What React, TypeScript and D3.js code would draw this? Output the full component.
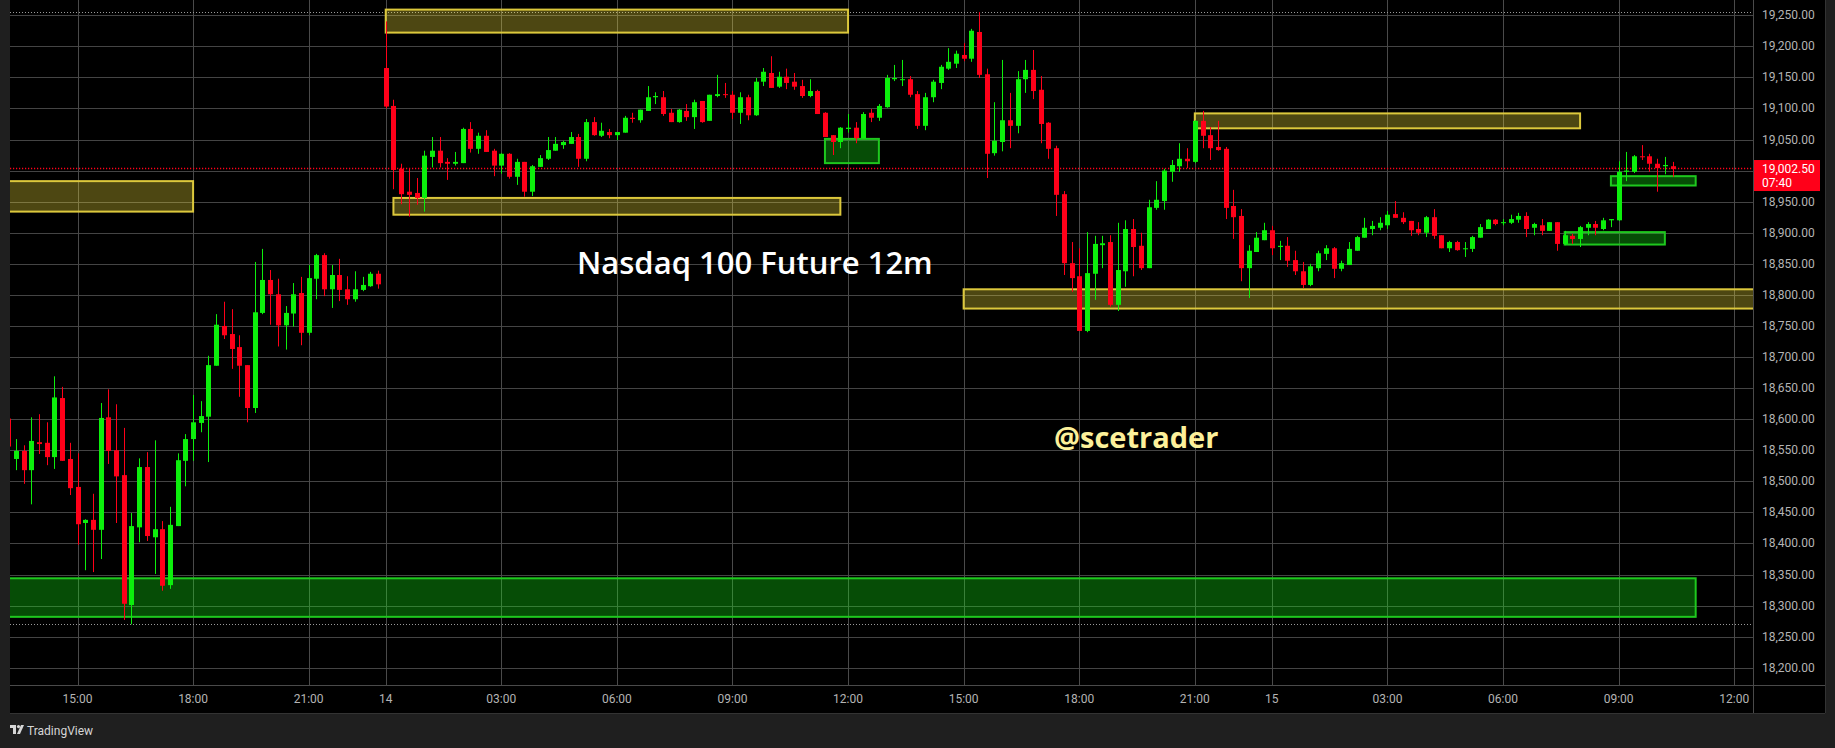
import React, { useEffect, useRef } from "react";
import * as d3 from "d3";

// 12 minute candles, index 0 = 15:00 on the 13th
const firstIndex = -9;

const opens = [
  18601, 18536, 18549, 18518, 18563, 18562, 18539, 18634, 18536,
  18491, 18433, 18438, 18422, 18603, 18550, 18510, 18301, 18426, 18523,
  18410, 18423, 18333, 18428, 18533, 18568, 18594, 18604, 18686, 18750,
  18737, 18716, 18687, 18618, 18771, 18824, 18801, 18751, 18770, 18803,
  18739, 18826, 18864, 18809, 18832, 18809, 18793, 18808, 18814, 18834,
  19165, 19104, 19003, 18966, 18964, 18956, 19022, 19032, 19014, 19011,
  19012, 19067, 19035, 19056, 19032, 19008, 19027, 18990, 19014, 18966,
  19006, 19019, 19032, 19041, 19043, 19054, 19019, 19078, 19056, 19062,
  19057, 19061, 19085, 19081, 19096, 19118, 19118, 19093, 19078, 19096,
  19086, 19112, 19080, 19120, 19123, 19122, 19093, 19118, 19089, 19143,
  19157, 19135, 19151, 19143, 19136, 19120, 19128, 19093, 19057, 19046,
  19067, 19069, 19052, 19093, 19085, 19102, 19147, 19146, 19147, 19123,
  19072, 19118, 19141, 19164, 19172, 19186, 19180, 19223, 19155, 19028,
  19046, 19081, 19072, 19147, 19162, 19130, 19077, 19036, 18962, 18851,
  18830, 18742, 18834, 18880, 18885, 18784, 18838, 18906, 18879, 18843,
  18940, 18951, 18998, 19007, 19019, 19014, 19080, 19057, 19038, 19035,
  18943, 18927, 18843, 18869, 18888, 18904, 18877, 18879, 18856, 18838,
  18816, 18843, 18866, 18875, 18842, 18848, 18871, 18892, 18906, 18908,
  18912, 18930, 18924, 18919, 18906, 18900, 18925, 18896, 18875, 18885,
  18874, 18874, 18892, 18906, 18921, 18916, 18916, 18921, 18927, 18908,
  18912, 18903, 18917, 18882, 18895, 18890, 18908, 18914, 18906, 18920,
  18920, 18998, 18998, 19023, 19023, 19011, 19007, 19007,
];
const highs = [
  18628, 18568, 18558, 18603, 18608, 18595, 18669, 18652, 18562,
  18545, 18439, 18480, 18626, 18648, 18624, 18586, 18449, 18537, 18547,
  18566, 18436, 18459, 18545, 18576, 18639, 18629, 18702, 18769, 18789,
  18777, 18735, 18687, 18853, 18874, 18840, 18826, 18782, 18819, 18829,
  18848, 18866, 18867, 18848, 18858, 18830, 18838, 18829, 18837, 18839,
  19240, 19114, 19011, 19004, 18988, 19032, 19054, 19054, 19020, 19030,
  19069, 19078, 19061, 19065, 19035, 19028, 19028, 19019, 19014, 19009,
  19025, 19054, 19054, 19048, 19062, 19059, 19083, 19086, 19077, 19067,
  19062, 19088, 19093, 19098, 19136, 19126, 19128, 19099, 19099, 19107,
  19114, 19112, 19122, 19154, 19141, 19128, 19126, 19122, 19149, 19165,
  19184, 19159, 19164, 19157, 19146, 19147, 19130, 19094, 19057, 19070,
  19091, 19078, 19094, 19099, 19107, 19154, 19170, 19178, 19152, 19128,
  19125, 19146, 19170, 19197, 19193, 19205, 19228, 19255, 19164, 19110,
  19178, 19125, 19160, 19178, 19194, 19152, 19078, 19040, 18967, 18885,
  18875, 18901, 18895, 18895, 18896, 18916, 18920, 18922, 18900, 18953,
  18983, 19003, 19017, 19044, 19036, 19081, 19096, 19070, 19080, 19038,
  18969, 18938, 18880, 18901, 18916, 18911, 18887, 18893, 18871, 18853,
  18850, 18871, 18880, 18877, 18855, 18885, 18895, 18924, 18919, 18925,
  18935, 18951, 18933, 18919, 18917, 18927, 18938, 18896, 18887, 18887,
  18885, 18895, 18914, 18922, 18922, 18922, 18929, 18932, 18933, 18916,
  18922, 18917, 18917, 18903, 18898, 18911, 18917, 18919, 18924, 18922,
  19015, 19030, 19025, 19041, 19027, 19019, 19022, 19014,
];
const lows = [
  18537, 18518, 18496, 18463, 18544, 18526, 18520, 18533, 18478,
  18398, 18357, 18354, 18375, 18528, 18433, 18277, 18270, 18402, 18404,
  18351, 18324, 18327, 18428, 18492, 18533, 18579, 18531, 18686, 18729,
  18681, 18636, 18595, 18610, 18769, 18752, 18717, 18712, 18749, 18719,
  18735, 18793, 18798, 18779, 18790, 18784, 18789, 18806, 18813, 18810,
  19100, 18970, 18946, 18926, 18945, 18934, 19005, 19005, 18985, 19008,
  19012, 19029, 19027, 19030, 18991, 18995, 18987, 18977, 18958, 18959,
  19006, 19017, 19032, 19035, 19043, 19006, 19015, 19056, 19054, 19052,
  19049, 19061, 19077, 19077, 19096, 19107, 19088, 19078, 19077, 19080,
  19067, 19077, 19080, 19118, 19117, 19083, 19075, 19081, 19088, 19136,
  19133, 19133, 19131, 19130, 19117, 19118, 19091, 19054, 19025, 19036,
  19061, 19044, 19052, 19078, 19080, 19101, 19144, 19136, 19118, 19067,
  19065, 19110, 19131, 19162, 19165, 19176, 19175, 19149, 18988, 19024,
  19031, 19036, 19060, 19125, 19115, 19044, 19019, 18927, 18832, 18805,
  18742, 18740, 18792, 18843, 18781, 18774, 18813, 18830, 18840, 18843,
  18937, 18937, 18982, 18998, 19004, 19012, 19036, 19017, 19032, 18922,
  18890, 18822, 18795, 18869, 18888, 18864, 18856, 18845, 18832, 18811,
  18814, 18838, 18856, 18827, 18838, 18848, 18871, 18892, 18896, 18904,
  18906, 18924, 18914, 18895, 18896, 18893, 18890, 18875, 18869, 18871,
  18861, 18869, 18892, 18906, 18912, 18912, 18914, 18916, 18893, 18896,
  18896, 18903, 18871, 18880, 18882, 18877, 18896, 18896, 18904, 18909,
  18919, 18983, 18996, 19017, 18998, 18966, 18994, 18990,
];
const closes = [
  18556, 18549, 18518, 18565, 18560, 18539, 18635, 18533, 18489,
  18431, 18438, 18422, 18602, 18549, 18508, 18303, 18428, 18523, 18412,
  18423, 18332, 18430, 18534, 18568, 18595, 18605, 18687, 18752, 18735,
  18713, 18686, 18618, 18772, 18824, 18801, 18751, 18771, 18801, 18739,
  18827, 18864, 18809, 18832, 18808, 18793, 18809, 18816, 18834, 18817,
  19103, 19001, 18962, 18961, 18956, 19024, 19032, 19012, 19011, 19014,
  19067, 19035, 19056, 19030, 19008, 19027, 18990, 19014, 18966, 19007,
  19020, 19033, 19043, 19046, 19054, 19019, 19078, 19057, 19064, 19057,
  19062, 19085, 19083, 19098, 19118, 19120, 19091, 19078, 19098, 19086,
  19110, 19078, 19122, 19123, 19122, 19093, 19118, 19089, 19143, 19159,
  19133, 19151, 19141, 19135, 19120, 19128, 19091, 19054, 19046, 19069,
  19069, 19052, 19091, 19085, 19104, 19149, 19149, 19147, 19122, 19072,
  19118, 19143, 19167, 19175, 19188, 19180, 19225, 19154, 19027, 19048,
  19081, 19072, 19147, 19162, 19128, 19075, 19035, 18961, 18851, 18827,
  18742, 18835, 18882, 18883, 18784, 18840, 18906, 18877, 18843, 18941,
  18953, 19000, 19009, 19019, 19015, 19080, 19056, 19036, 19033, 18940,
  18925, 18843, 18871, 18892, 18904, 18875, 18879, 18855, 18838, 18816,
  18846, 18867, 18875, 18842, 18851, 18874, 18893, 18908, 18911, 18916,
  18929, 18924, 18917, 18904, 18900, 18925, 18895, 18875, 18885, 18872,
  18875, 18893, 18909, 18921, 18914, 18917, 18922, 18927, 18906, 18914,
  18903, 18917, 18882, 18896, 18890, 18909, 18914, 18908, 18920, 18922,
  18998, 19000, 19023, 19022, 19011, 19004, 19009, 19002.5,
];

const lastPrice = 19002.5;
const countdown = "07:40";
const rangeHigh = 19255;
const rangeLow = 18270;

const tickIndex = [0, 15, 30, 40, 55, 70, 85, 100, 115, 130, 145, 155, 170, 185, 200, 215];
const tickLabels = ["15:00", "18:00", "21:00", "14", "03:00", "06:00", "09:00", "12:00",
  "15:00", "18:00", "21:00", "15", "03:00", "06:00", "09:00", "12:00"];
const priceTicks = d3.range(18200, 19251, 50);

// drawn zones (time index from/to, price top/bottom)
const zoneFrom = [-14, 40, 41, 97, 115, 145, 193, 199, -14];
const zoneTo = [15, 100, 99, 104, 240, 195, 206, 210, 210];
const zoneTop = [18983, 19259, 18956, 19051, 18809, 19092, 18901, 18991, 18344];
const zoneBottom = [18934, 19222, 18929, 19012, 18778, 19068, 18881, 18976, 18282];
const zoneKind = ["y", "y", "y", "g", "y", "y", "g", "g", "g"];

const W = 1835, H = 748;
const plotL = 10, plotR = 1753, plotB = 685, axisB = 713, axisR = 1825;
const UP = "#0cef0c", DOWN = "#ff0019";
const FONT = "Roboto, 'Liberation Sans', sans-serif";

const App = () => {
  const ref = useRef(null);

  useEffect(() => {
    const svg = d3.select(ref.current);
    svg.selectAll("*").remove();

    const x = d3.scaleLinear().domain([0, 215]).range([77.5, 1734.2]);
    const y = d3.scaleLinear().domain([18200, 19250]).range([667.8, 15.2]);
    const px = (v) => Math.round(v) + 0.5;

    svg.append("rect").attr("width", W).attr("height", H).attr("fill", "#1f1f1f");
    svg.append("rect").attr("x", plotL).attr("y", 0)
      .attr("width", axisR - plotL).attr("height", axisB).attr("fill", "#000");

    svg.append("defs").append("clipPath").attr("id", "plot")
      .append("rect").attr("x", plotL).attr("y", 0)
      .attr("width", plotR - plotL).attr("height", plotB);

    const plot = svg.append("g").attr("clip-path", "url(#plot)");

    // grid
    plot.selectAll(".hg").data(priceTicks).enter().append("line")
      .attr("x1", plotL).attr("x2", plotR)
      .attr("y1", d => px(y(d))).attr("y2", d => px(y(d)))
      .attr("stroke", "#444").attr("stroke-width", 1);
    plot.selectAll(".vg").data(tickIndex).enter().append("line")
      .attr("x1", d => px(x(d))).attr("x2", d => px(x(d)))
      .attr("y1", 0).attr("y2", plotB)
      .attr("stroke", "#4a4a4a").attr("stroke-width", 1);

    // high / low of visible range
    plot.selectAll(".hl").data([rangeHigh, rangeLow]).enter().append("line")
      .attr("x1", plotL).attr("x2", plotR)
      .attr("y1", d => px(y(d))).attr("y2", d => px(y(d)))
      .attr("stroke", "#9a9a9a").attr("stroke-dasharray", "1,2");

    // zones
    const zones = zoneFrom.map((f, i) => ({ f, t: zoneTo[i], top: zoneTop[i], bot: zoneBottom[i], k: zoneKind[i] }));
    plot.selectAll(".zone").data(zones).enter().append("rect")
      .attr("x", d => x(d.f)).attr("y", d => y(d.top))
      .attr("width", d => x(d.t) - x(d.f)).attr("height", d => y(d.bot) - y(d.top))
      .attr("fill", d => d.k === "y" ? "rgba(255,235,59,0.3)" : "rgba(20,255,20,0.3)")
      .attr("stroke", d => d.k === "y" ? "#dcc83c" : "#1ec81e")
      .attr("stroke-width", 2);

    // last price line
    plot.append("line")
      .attr("x1", plotL).attr("x2", plotR)
      .attr("y1", y(lastPrice) - 0.5).attr("y2", y(lastPrice) - 0.5)
      .attr("stroke", DOWN).attr("stroke-width", 1.5).attr("stroke-dasharray", "1.2,1.8");

    // candles
    const candles = opens.map((o, i) => ({
      i: i + firstIndex, o, h: highs[i], l: lows[i], c: closes[i],
    }));
    const cg = plot.selectAll(".candle").data(candles).enter().append("g");
    cg.append("line")
      .attr("x1", d => px(x(d.i))).attr("x2", d => px(x(d.i)))
      .attr("y1", d => y(d.h)).attr("y2", d => y(d.l))
      .attr("stroke", d => d.c >= d.o ? UP : DOWN).attr("stroke-width", 1);
    cg.append("rect")
      .attr("x", d => Math.round(x(d.i)) - 2).attr("width", 5)
      .attr("y", d => y(Math.max(d.o, d.c)))
      .attr("height", d => Math.max(1, Math.abs(y(d.o) - y(d.c))))
      .attr("fill", d => d.c >= d.o ? UP : DOWN);

    // texts on the chart
    svg.append("text").attr("x", 577).attr("y", 274)
      .style("font-family", "'Open Sans', sans-serif").style("font-weight", 600)
      .style("font-size", "31px").attr("fill", "#fff").text("Nasdaq 100 Future 12m");
    svg.append("text").attr("x", 1054).attr("y", 448)
      .style("font-family", "'Open Sans', sans-serif").style("font-weight", 700)
      .style("font-size", "29px").attr("fill", "#fdf09a").text("@scetrader");

    // axes frame
    svg.append("line").attr("x1", plotR + 0.5).attr("x2", plotR + 0.5).attr("y1", 0).attr("y2", axisB)
      .attr("stroke", "#4a4a4a");
    svg.append("line").attr("x1", plotL).attr("x2", axisR).attr("y1", plotB + 0.5).attr("y2", plotB + 0.5)
      .attr("stroke", "#4a4a4a");
    svg.append("line").attr("x1", axisR + 0.5).attr("x2", axisR + 0.5).attr("y1", 0).attr("y2", axisB)
      .attr("stroke", "#333");
    svg.append("line").attr("x1", plotL).attr("x2", axisR).attr("y1", axisB + 0.5).attr("y2", axisB + 0.5)
      .attr("stroke", "#333");

    // price axis
    svg.selectAll(".pl").data(priceTicks).enter().append("text")
      .attr("x", 1762).attr("y", d => y(d) + 4)
      .style("font-family", FONT).style("font-size", "12px").attr("fill", "#b4b4b4")
      .text(d => d3.format(",.2f")(d));

    // time axis
    svg.selectAll(".tl").data(tickIndex).enter().append("text")
      .attr("x", d => x(d)).attr("y", 703).attr("text-anchor", "middle")
      .style("font-family", FONT).style("font-size", "12px").attr("fill", "#b4b4b4")
      .text((d, i) => tickLabels[i]);

    // last price label
    const ly = y(lastPrice);
    svg.append("rect").attr("x", plotR + 1).attr("y", ly - 9).attr("width", 66).attr("height", 31)
      .attr("fill", DOWN);
    svg.append("text").attr("x", 1762).attr("y", ly + 4)
      .style("font-family", FONT).style("font-size", "12px").attr("fill", "#fff")
      .text(d3.format(",.2f")(lastPrice));
    svg.append("text").attr("x", 1762).attr("y", ly + 18)
      .style("font-family", FONT).style("font-size", "12px").attr("fill", "#fff")
      .text(countdown);

    // tradingview mark
    const logo = svg.append("g").attr("transform", "translate(10,725)").attr("fill", "#d6d6d6");
    logo.append("path").attr("d", "M0 0 H6 V9 H3 V3 H0 Z");
    logo.append("circle").attr("cx", 8.5).attr("cy", 1.6).attr("r", 1.6);
    logo.append("path").attr("d", "M11 0 H14 L10 9 H7 Z");
    svg.append("text").attr("x", 27).attr("y", 735)
      .style("font-family", FONT).style("font-size", "12px").attr("fill", "#d6d6d6")
      .text("TradingView");
  }, []);

  return (
    <div style={{ position: "absolute", left: 0, top: 0 }}>
      <svg ref={ref} width={W} height={H} style={{ display: "block" }} />
    </div>
  );
};

export default App;
